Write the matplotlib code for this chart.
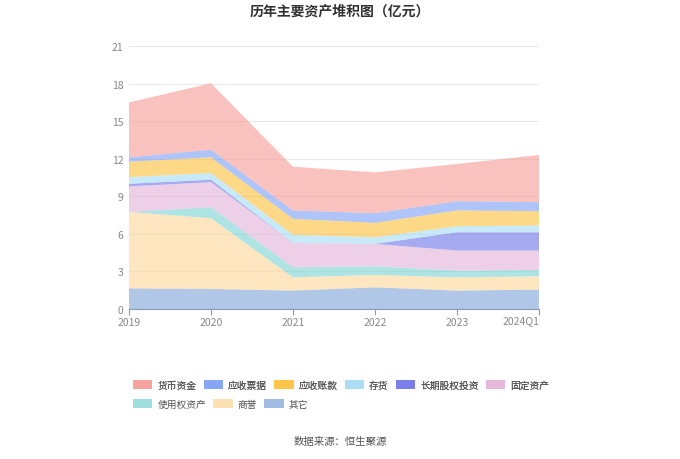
import matplotlib
matplotlib.use('Agg')
import matplotlib.pyplot as plt
from matplotlib.patches import Patch

plt.rcParams['font.family'] = ['Noto Sans CJK SC', 'DejaVu Sans']

# Data (亿元), stacked from bottom to top
periods = ['2019', '2020', '2021', '2022', '2023', '2024Q1']
other = [1.65, 1.60, 1.47, 1.73, 1.47, 1.55]
goodwill = [6.10, 5.65, 1.06, 0.99, 1.06, 1.06]
right_of_use = [0.00, 0.88, 0.80, 0.69, 0.54, 0.51]
fixed_assets = [2.04, 2.00, 1.95, 1.79, 1.60, 1.55]
lt_equity = [0.21, 0.19, 0.00, 0.00, 1.46, 1.46]
inventory = [0.53, 0.54, 0.64, 0.53, 0.48, 0.54]
receivables = [1.23, 1.25, 1.28, 1.15, 1.26, 1.14]
notes_recv = [0.35, 0.61, 0.67, 0.77, 0.74, 0.72]
cash = [4.39, 5.30, 3.49, 3.26, 2.97, 3.77]

stack_series = [other, goodwill, right_of_use, fixed_assets, lt_equity,
                inventory, receivables, notes_recv, cash]
stack_names = ['其它', '商誉', '使用权资产', '固定资产', '长期股权投资',
               '存货', '应收账款', '应收票据', '货币资金']
stack_colors = ['#82A5D9', '#FDD89A', '#7ED4D4', '#E3B3D9', '#7076E8',
                '#A6DCF5', '#FDC23E', '#7FA0F5', '#F89D97']

legend_order = ['货币资金', '应收票据', '应收账款', '存货', '长期股权投资', '固定资产',
                '使用权资产', '商誉', '其它']

fig = plt.figure(figsize=(6.8, 4.6), dpi=100)
ax = fig.add_axes([129 / 680, 1 - 310 / 460, 410 / 680, 263 / 460])

x = list(range(len(periods)))
ax.stackplot(x, *stack_series, colors=stack_colors, alpha=0.62, linewidth=0)

ax.set_xlim(0, len(periods) - 1)
ax.set_ylim(0, 21)
ax.set_yticks([0, 3, 6, 9, 12, 15, 18, 21])
ax.set_xticks(x)
# last label is drawn right-aligned by hand so it ends at the axis edge
ax.set_xticklabels(periods[:-1] + [''])
ax.text(x[-1], -6 / 263, periods[-1], transform=ax.get_xaxis_transform(),
        ha='right', va='top', fontsize=7.5, color='#888888')
ax.tick_params(axis='both', labelsize=7.5, colors='#888888', length=0, pad=4)
ax.tick_params(axis='x', length=4, color='#8a9bb8', pad=2)
ax.grid(axis='y', color='#e8e8e8', linewidth=0.8)
ax.set_axisbelow(True)
for s in ['top', 'right', 'left']:
    ax.spines[s].set_visible(False)
ax.spines['bottom'].set_color('#8a9bb8')
ax.spines['bottom'].set_linewidth(0.8)

fig.text(0.5, 1 - 12 / 460, '历年主要资产堆积图（亿元）', ha='center', va='center',
         fontsize=10, fontweight='bold', color='#333333')

color_of = dict(zip(stack_names, stack_colors))
handles = [Patch(facecolor=color_of[n], edgecolor='none', alpha=0.75) for n in legend_order]

leg_kw = dict(frameon=False, fontsize=7, handlelength=2.0, handleheight=1.1,
              handletextpad=0.5, columnspacing=0.75, labelcolor='#555555',
              borderpad=0, borderaxespad=0)
leg1 = fig.legend(handles[:6], legend_order[:6], loc='center left',
                  bbox_to_anchor=(133 / 680, 1 - 386 / 460), ncol=6, **leg_kw)
fig.legend(handles[6:], legend_order[6:], loc='center left',
           bbox_to_anchor=(133 / 680, 1 - 405 / 460), ncol=3, **leg_kw)
fig.add_artist(leg1)

fig.text(0.5, 1 - 442 / 460, '数据来源：恒生聚源', ha='center', va='center',
         fontsize=7.5, color='#555555')

fig.savefig('out.png', dpi=100)
